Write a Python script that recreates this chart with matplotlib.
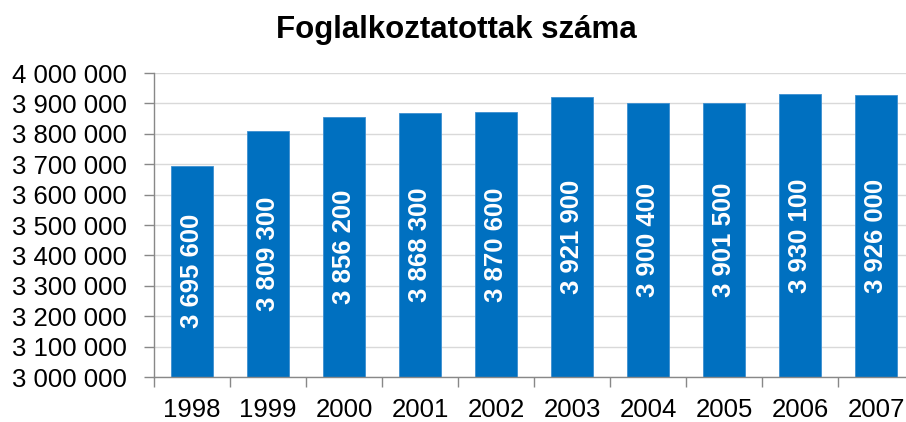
import matplotlib
matplotlib.use("Agg")
import matplotlib.pyplot as plt
from matplotlib.ticker import FixedLocator, FuncFormatter

years = ["1998", "1999", "2000", "2001", "2002", "2003", "2004", "2005", "2006", "2007"]
values = [3695600, 3809300, 3856200, 3868300, 3870600, 3921900, 3900400, 3901500, 3930100, 3926000]
title = "Foglalkoztatottak száma"

def fmt(v):
    return f"{int(v):,}".replace(",", " ")

plt.rcParams['font.family'] = ['Liberation Sans', 'DejaVu Sans']

fig = plt.figure(figsize=(9.06, 4.22), dpi=100)
ax = fig.add_axes([154/906, 1 - 377/422, 760/906, (377 - 73)/422])

x = list(range(len(years)))
bars = ax.bar(x, values, width=0.54, color="#0070C0", edgecolor="#3d8fd0", linewidth=0.6, zorder=3)

ax.set_ylim(3000000, 4000000)
ax.set_xlim(-0.5, len(years) - 0.5)
ax.yaxis.set_major_locator(FixedLocator([3000000 + i * 100000 for i in range(11)]))
ax.yaxis.set_major_formatter(FuncFormatter(lambda v, p: fmt(v)))
ax.set_xticks(x)
ax.set_xticklabels(years)
ax.set_xticks([i - 0.5 for i in range(len(years) + 1)], minor=True)

ax.tick_params(axis='x', which='major', length=0, pad=15, labelsize=18.5)
ax.tick_params(axis='x', which='minor', length=7, width=1, color="#888888", direction='out')
ax.tick_params(axis='y', length=7, width=1, color="#888888", direction='out', pad=12.5, labelsize=18.5)

ax.grid(axis='y', color="#d9d9d9", linewidth=1, zorder=0)
for s in ['top', 'right']:
    ax.spines[s].set_visible(False)
for s in ['left', 'bottom']:
    ax.spines[s].set_color("#888888")
    ax.spines[s].set_linewidth(1)
    ax.spines[s].set_zorder(4)

for xi, v in zip(x, values):
    ax.text(xi, (3000000 + v) / 2, fmt(v), rotation=90, ha='center', va='center',
            color='white', fontsize=18.5, fontweight='bold', zorder=5)

fig.text(456/906, 1 - 30/422, title, ha='center', va='center', fontsize=22.5, fontweight='bold')

fig.savefig("out.png", dpi=100)
